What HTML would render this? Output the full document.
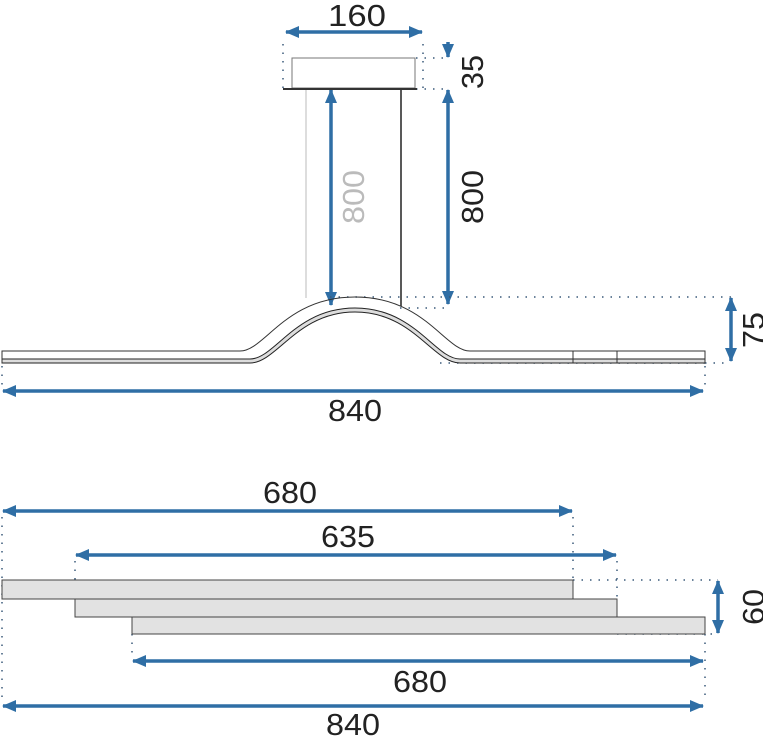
<!DOCTYPE html>
<html><head><meta charset="utf-8"><style>
html,body{margin:0;padding:0;background:#fff}
svg{display:block}
text{font-family:"Liberation Sans",sans-serif;fill:#222;font-size:31px}
</style></head><body>
<svg width="763" height="737" viewBox="0 0 763 737" xmlns="http://www.w3.org/2000/svg">
<defs>
<marker id="b" viewBox="0 0 14 12" refX="13" refY="6" markerWidth="14" markerHeight="12" orient="auto-start-reverse" markerUnits="userSpaceOnUse"><path d="M0,0 L14,6 L0,12 z" fill="#2f6ea5"/></marker>
</defs>
<g stroke="#2f6ea5" stroke-width="3.5" fill="none">
<line x1="286" y1="32" x2="422" y2="32" marker-start="url(#b)" marker-end="url(#b)"/>
<line x1="448" y1="42" x2="448" y2="57" marker-end="url(#b)"/>
<line x1="448" y1="90" x2="448" y2="304" marker-start="url(#b)" marker-end="url(#b)"/>
<line x1="331" y1="90" x2="331" y2="305" marker-start="url(#b)" marker-end="url(#b)"/>
<line x1="731" y1="298" x2="731" y2="361" marker-start="url(#b)" marker-end="url(#b)"/>
<line x1="3" y1="391" x2="703" y2="391" marker-start="url(#b)" marker-end="url(#b)"/>
<line x1="3" y1="511" x2="572" y2="511" marker-start="url(#b)" marker-end="url(#b)"/>
<line x1="76" y1="555" x2="616" y2="555" marker-start="url(#b)" marker-end="url(#b)"/>
<line x1="133" y1="661" x2="703" y2="661" marker-start="url(#b)" marker-end="url(#b)"/>
<line x1="3" y1="706" x2="703" y2="706" marker-start="url(#b)" marker-end="url(#b)"/>
<line x1="718" y1="581" x2="718" y2="633" marker-start="url(#b)" marker-end="url(#b)"/>
</g>
<g stroke="#3a5a7a" stroke-width="1.5" stroke-dasharray="1.5 7" fill="none">
<line x1="283" y1="44" x2="283" y2="89"/><line x1="423" y1="44" x2="423" y2="89"/>
<line x1="416" y1="58" x2="448" y2="58"/><line x1="416" y1="89" x2="448" y2="89"/>
<line x1="330" y1="297" x2="735" y2="297"/><line x1="400" y1="308" x2="448" y2="308"/>
<line x1="705" y1="363" x2="730" y2="363"/><line x1="440" y1="363" x2="705" y2="363"/>
<line x1="2" y1="366" x2="2" y2="385"/><line x1="705" y1="366" x2="705" y2="385"/>
<line x1="2" y1="517" x2="2" y2="700"/><line x1="573" y1="517" x2="573" y2="580"/>
<line x1="75" y1="561" x2="75" y2="599"/><line x1="617" y1="561" x2="617" y2="599"/>
<line x1="573" y1="580" x2="718" y2="580"/><line x1="617" y1="634" x2="718" y2="634"/>
<line x1="132" y1="634" x2="132" y2="656"/><line x1="705" y1="634" x2="705" y2="700"/>
</g>
<rect x="292" y="58" width="123" height="30" fill="#fff" stroke="#777" stroke-width="1"/>
<line x1="283" y1="89" x2="417" y2="89" stroke="#333" stroke-width="2"/>
<line x1="306" y1="90" x2="306" y2="298" stroke="#bbb" stroke-width="1"/>
<line x1="401" y1="90" x2="401" y2="306" stroke="#222" stroke-width="1.5"/>
<path d="M2,359 L250,359 C275,359 295,308 355,308 C415,308 435,359 460,359 L705,359 L705,363 L460,363 C433,363 413,312 355,312 C297,312 277,363 250,363 L2,363 Z" fill="#ddd" stroke="#222" stroke-width="1"/>
<path d="M2,363 L2,351 L240,351 C265,351 285,297 355,297 C425,297 445,351 470,351 L705,351 L705,363" fill="none" stroke="#333" stroke-width="1"/>
<line x1="573" y1="351" x2="573" y2="363" stroke="#333"/><line x1="617" y1="351" x2="617" y2="363" stroke="#333"/>
<rect x="2" y="580" width="571" height="19" fill="#e2e2e2" stroke="#444" stroke-width="1"/>
<rect x="75" y="599" width="542" height="18" fill="#e2e2e2" stroke="#444" stroke-width="1"/>
<rect x="132" y="617" width="573" height="17" fill="#e2e2e2" stroke="#444" stroke-width="1"/>
<text x="357" y="26" text-anchor="middle" textLength="58" lengthAdjust="spacingAndGlyphs">160</text>
<text transform="translate(483,72) rotate(-90)" text-anchor="middle" textLength="34" lengthAdjust="spacingAndGlyphs">35</text>
<text transform="translate(483,197) rotate(-90)" text-anchor="middle" textLength="54" lengthAdjust="spacingAndGlyphs">800</text>
<text transform="translate(364,197) rotate(-90)" text-anchor="middle" textLength="54" lengthAdjust="spacingAndGlyphs" style="fill:#bbb">800</text>
<text transform="translate(764,330) rotate(-90)" text-anchor="middle" textLength="36" lengthAdjust="spacingAndGlyphs">75</text>
<text x="355" y="421" text-anchor="middle" textLength="54" lengthAdjust="spacingAndGlyphs">840</text>
<text x="290" y="503" text-anchor="middle" textLength="54" lengthAdjust="spacingAndGlyphs">680</text>
<text x="348" y="547" text-anchor="middle" textLength="54" lengthAdjust="spacingAndGlyphs">635</text>
<text x="420" y="692" text-anchor="middle" textLength="54" lengthAdjust="spacingAndGlyphs">680</text>
<text x="353" y="735" text-anchor="middle" textLength="54" lengthAdjust="spacingAndGlyphs">840</text>
<text transform="translate(764,607) rotate(-90)" text-anchor="middle" textLength="36" lengthAdjust="spacingAndGlyphs">60</text>
</svg>
</body></html>
